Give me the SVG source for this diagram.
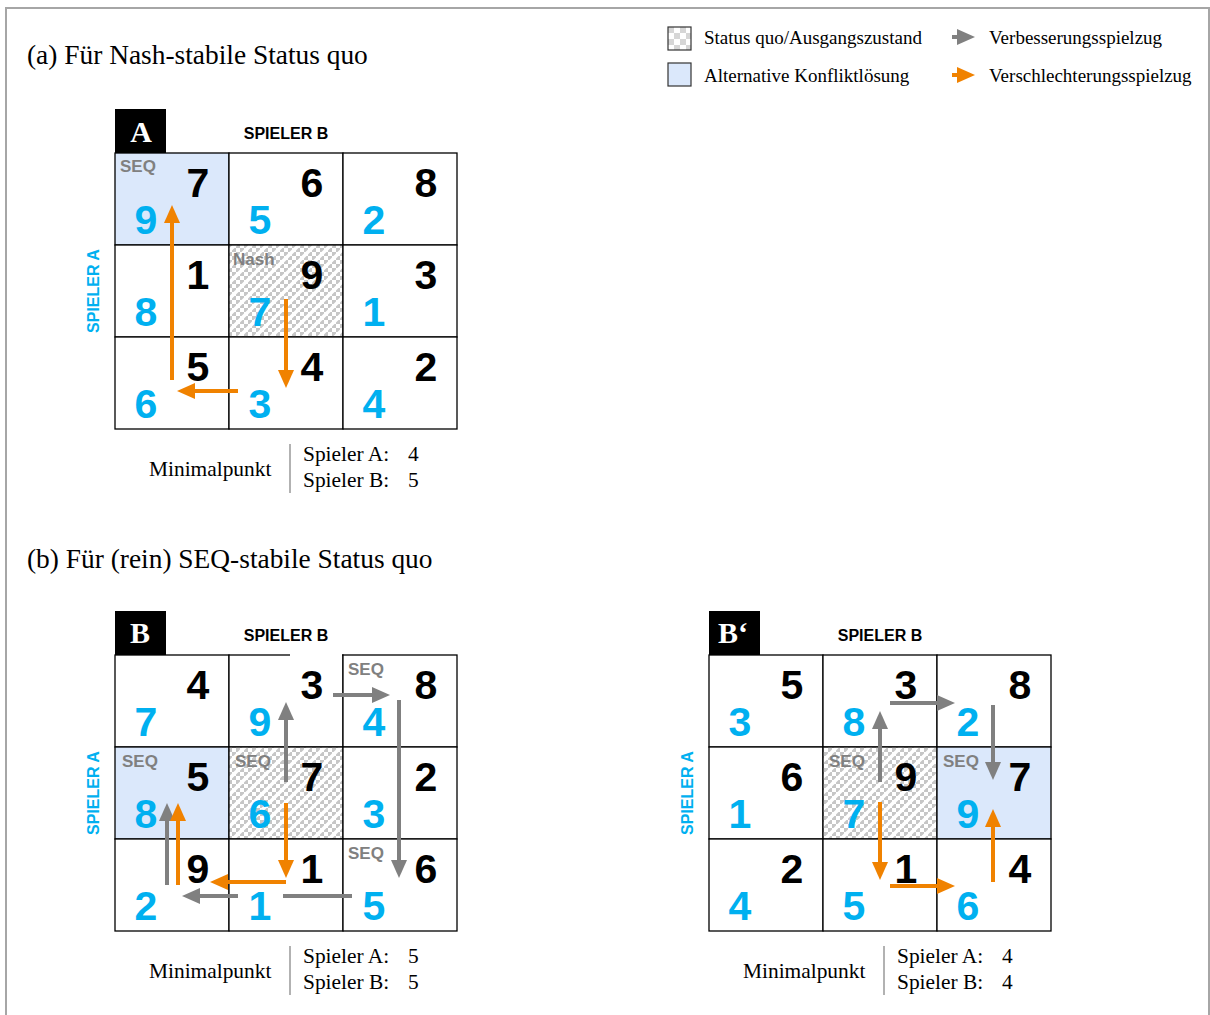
<svg xmlns="http://www.w3.org/2000/svg" width="1210" height="1015" viewBox="0 0 1210 1015">
<defs>
<pattern id="hatch" patternUnits="userSpaceOnUse" width="16" height="16">
<rect width="16" height="16" fill="#fff"/>
<path d="M0,0h4v4h-4zM8,0h4v4h-4zM4,4h4v4h-4zM12,4h4v4h-4zM0,8h4v4h-4zM8,8h4v4h-4zM4,12h4v4h-4zM12,12h4v4h-4z" fill="#c6c6c6"/>
<path d="M0,16L16,0M-4,4L4,-4M12,20L20,12" stroke="#fff" stroke-width="3.5"/>
</pattern>
<pattern id="check" patternUnits="userSpaceOnUse" width="12" height="12" x="668" y="27">
<rect width="12" height="12" fill="#fff"/>
<path d="M0,0h6v6h-6zM6,6h6v6h-6z" fill="#d6d6d6"/>
</pattern>
<marker id="ag" markerUnits="userSpaceOnUse" markerWidth="18" markerHeight="16" viewBox="0 0 18 16" refX="1" refY="8" orient="auto"><path d="M0,0L18,8L0,16z" fill="#808080"/></marker>
<marker id="ao" markerUnits="userSpaceOnUse" markerWidth="18" markerHeight="16" viewBox="0 0 18 16" refX="1" refY="8" orient="auto"><path d="M0,0L18,8L0,16z" fill="#f08200"/></marker>
</defs>
<style>
.cell{fill:#fff;stroke:#000;stroke-width:1.3}
.alt{fill:#dbe8fb}
.sq{fill:url(#hatch)}
.bk{font-family:"Liberation Sans",Arial,sans-serif;font-weight:bold;font-size:41px;fill:#000;text-anchor:middle}
.bl{font-family:"Liberation Sans",Arial,sans-serif;font-weight:bold;font-size:41px;fill:#00b0f0;text-anchor:middle}
.tag{font-family:"Liberation Sans",Arial,sans-serif;font-weight:bold;font-size:17px;fill:#808080}
.pb{font-family:"Liberation Sans",Arial,sans-serif;font-weight:bold;font-size:16px;fill:#000;text-anchor:middle}
.pa{font-family:"Liberation Sans",Arial,sans-serif;font-weight:bold;font-size:16px;fill:#00b0f0;text-anchor:middle}
.lab{font-family:"Liberation Serif","Times New Roman",serif;font-weight:bold;font-size:30px;fill:#fff}
.t{font-family:"Liberation Serif","Times New Roman",serif;fill:#000}
.ttl{font-size:27.4px}
.lg{font-size:19px}
.mp{font-size:21.4px}
.g{stroke:#808080;stroke-width:4;fill:none}
.o{stroke:#f08200;stroke-width:4;fill:none}
</style>
<rect x="6" y="8" width="1203" height="1020" fill="#fff" stroke="#a6a6a6" stroke-width="2"/>

<text class="t ttl" x="27" y="64">(a) Für Nash-stabile Status quo</text>
<text class="t ttl" x="27" y="568">(b) Für (rein) SEQ-stabile Status quo</text>

<g id="legend">
<rect x="668" y="27" width="23" height="23" fill="url(#check)" stroke="#333" stroke-width="1.2"/>
<text class="t lg" x="704" y="44">Status quo/Ausgangszustand</text>
<rect x="668" y="63" width="23" height="23" fill="#dbe8fb" stroke="#333" stroke-width="1.2"/>
<text class="t lg" x="704" y="82">Alternative Konfliktlösung</text>
<line class="g" x1="952" y1="37" x2="958" y2="37" marker-end="url(#ag)"/>
<text class="t lg" x="989" y="44">Verbesserungsspielzug</text>
<line class="o" x1="952" y1="75" x2="958" y2="75" marker-end="url(#ao)"/>
<text class="t lg" x="989" y="82">Verschlechterungsspielzug</text>
</g>

<!-- Grid A -->
<g id="gridA">
<rect x="115" y="109" width="51" height="44" fill="#000"/>
<text class="lab" x="141" y="142" text-anchor="middle">A</text>
<text class="pb" x="286" y="139">SPIELER B</text>
<text class="pa" transform="translate(99,291) rotate(-90)">SPIELER A</text>
<g id="A00"><rect class="cell alt" x="115" y="153" width="114" height="92"/><text class="tag" x="120" y="172">SEQ</text><text class="bk" x="198" y="197">7</text><text class="bl" x="146" y="234">9</text></g>
<g id="A01"><rect class="cell" x="229" y="153" width="114" height="92"/><text class="bk" x="312" y="197">6</text><text class="bl" x="260" y="234">5</text></g>
<g id="A02"><rect class="cell" x="343" y="153" width="114" height="92"/><text class="bk" x="426" y="197">8</text><text class="bl" x="374" y="234">2</text></g>
<g id="A10"><rect class="cell" x="115" y="245" width="114" height="92"/><text class="bk" x="198" y="289">1</text><text class="bl" x="146" y="326">8</text></g>
<g id="A11"><rect class="cell sq" x="229" y="245" width="114" height="92"/><text class="tag" x="233" y="265">Nash</text><text class="bk" x="312" y="289">9</text><text class="bl" x="260" y="326">7</text></g>
<g id="A12"><rect class="cell" x="343" y="245" width="114" height="92"/><text class="bk" x="426" y="289">3</text><text class="bl" x="374" y="326">1</text></g>
<g id="A20"><rect class="cell" x="115" y="337" width="114" height="92"/><text class="bk" x="198" y="381">5</text><text class="bl" x="146" y="418">6</text></g>
<g id="A21"><rect class="cell" x="229" y="337" width="114" height="92"/><text class="bk" x="312" y="381">4</text><text class="bl" x="260" y="418">3</text></g>
<g id="A22"><rect class="cell" x="343" y="337" width="114" height="92"/><text class="bk" x="426" y="381">2</text><text class="bl" x="374" y="418">4</text></g>
</g>
<g id="minA">
<text class="t mp" x="149" y="476">Minimalpunkt</text>
<line x1="290" y1="444" x2="290" y2="493" stroke="#999" stroke-width="1.5"/>
<text class="t mp" x="303" y="461">Spieler A:</text><text class="t mp" x="408" y="461">4</text>
<text class="t mp" x="303" y="487">Spieler B:</text><text class="t mp" x="408" y="487">5</text>
</g>

<!-- Grid B -->
<g id="gridB">
<rect x="115" y="611" width="51" height="44" fill="#000"/>
<text class="lab" x="140" y="643" text-anchor="middle">B</text>
<text class="pb" x="286" y="641">SPIELER B</text>
<text class="pa" transform="translate(99,793) rotate(-90)">SPIELER A</text>
<g id="B00"><rect class="cell" x="115" y="655" width="114" height="92"/><text class="bk" x="198" y="699">4</text><text class="bl" x="146" y="736">7</text></g>
<g id="B01"><rect class="cell" x="229" y="655" width="114" height="92"/><rect x="290" y="653" width="52" height="3" fill="#fff"/><text class="bk" x="312" y="699">3</text><text class="bl" x="260" y="736">9</text></g>
<g id="B02"><rect class="cell" x="343" y="655" width="114" height="92"/><text class="tag" x="348" y="675">SEQ</text><text class="bk" x="426" y="699">8</text><text class="bl" x="374" y="736">4</text></g>
<g id="B10"><rect class="cell alt" x="115" y="747" width="114" height="92"/><text class="tag" x="122" y="767">SEQ</text><text class="bk" x="198" y="791">5</text><text class="bl" x="146" y="828">8</text></g>
<g id="B11"><rect class="cell sq" x="229" y="747" width="114" height="92"/><text class="tag" x="235" y="767">SEQ</text><text class="bk" x="312" y="791">7</text><text class="bl" x="260" y="828">6</text></g>
<g id="B12"><rect class="cell" x="343" y="747" width="114" height="92"/><text class="bk" x="426" y="791">2</text><text class="bl" x="374" y="828">3</text></g>
<g id="B20"><rect class="cell" x="115" y="839" width="114" height="92"/><text class="bk" x="198" y="883">9</text><text class="bl" x="146" y="920">2</text></g>
<g id="B21"><rect class="cell" x="229" y="839" width="114" height="92"/><text class="bk" x="312" y="883">1</text><text class="bl" x="260" y="920">1</text></g>
<g id="B22"><rect class="cell" x="343" y="839" width="114" height="92"/><text class="tag" x="348" y="859">SEQ</text><text class="bk" x="426" y="883">6</text><text class="bl" x="374" y="920">5</text></g>
</g>
<g id="minB">
<text class="t mp" x="149" y="978">Minimalpunkt</text>
<line x1="290" y1="946" x2="290" y2="995" stroke="#999" stroke-width="1.5"/>
<text class="t mp" x="303" y="963">Spieler A:</text><text class="t mp" x="408" y="963">5</text>
<text class="t mp" x="303" y="989">Spieler B:</text><text class="t mp" x="408" y="989">5</text>
</g>

<!-- Grid B' -->
<g id="gridB2">
<rect x="709" y="611" width="51" height="44" fill="#000"/>
<text class="lab" x="718" y="643">B‘</text>
<text class="pb" x="880" y="641">SPIELER B</text>
<text class="pa" transform="translate(693,793) rotate(-90)">SPIELER A</text>
<g id="C00"><rect class="cell" x="709" y="655" width="114" height="92"/><text class="bk" x="792" y="699">5</text><text class="bl" x="740" y="736">3</text></g>
<g id="C01"><rect class="cell" x="823" y="655" width="114" height="92"/><text class="bk" x="906" y="699">3</text><text class="bl" x="854" y="736">8</text></g>
<g id="C02"><rect class="cell" x="937" y="655" width="114" height="92"/><text class="bk" x="1020" y="699">8</text><text class="bl" x="968" y="736">2</text></g>
<g id="C10"><rect class="cell" x="709" y="747" width="114" height="92"/><text class="bk" x="792" y="791">6</text><text class="bl" x="740" y="828">1</text></g>
<g id="C11"><rect class="cell sq" x="823" y="747" width="114" height="92"/><text class="tag" x="829" y="767">SEQ</text><text class="bk" x="906" y="791">9</text><text class="bl" x="854" y="828">7</text></g>
<g id="C12"><rect class="cell alt" x="937" y="747" width="114" height="92"/><text class="tag" x="943" y="767">SEQ</text><text class="bk" x="1020" y="791">7</text><text class="bl" x="968" y="828">9</text></g>
<g id="C20"><rect class="cell" x="709" y="839" width="114" height="92"/><text class="bk" x="792" y="883">2</text><text class="bl" x="740" y="920">4</text></g>
<g id="C21"><rect class="cell" x="823" y="839" width="114" height="92"/><text class="bk" x="906" y="883">1</text><text class="bl" x="854" y="920">5</text></g>
<g id="C22"><rect class="cell" x="937" y="839" width="114" height="92"/><text class="bk" x="1020" y="883">4</text><text class="bl" x="968" y="920">6</text></g>
</g>
<g id="minB2">
<text class="t mp" x="743" y="978">Minimalpunkt</text>
<line x1="884" y1="946" x2="884" y2="995" stroke="#999" stroke-width="1.5"/>
<text class="t mp" x="897" y="963">Spieler A:</text><text class="t mp" x="1002" y="963">4</text>
<text class="t mp" x="897" y="989">Spieler B:</text><text class="t mp" x="1002" y="989">4</text>
</g>

<g id="connectors">
<!-- A -->
<line class="o" x1="286" y1="299" x2="286" y2="371" marker-end="url(#ao)"/>
<line class="o" x1="238" y1="391" x2="194" y2="391" marker-end="url(#ao)"/>
<line class="o" x1="172" y1="380" x2="172" y2="222" marker-end="url(#ao)"/>
<!-- B -->
<line class="g" x1="286" y1="782" x2="286" y2="719" marker-end="url(#ag)"/>
<line class="g" x1="333" y1="695" x2="373" y2="695" marker-end="url(#ag)"/>
<line class="g" x1="399" y1="700" x2="399" y2="861" marker-end="url(#ag)"/>
<line class="g" x1="352" y1="896" x2="283" y2="896"/>
<line class="g" x1="238" y1="896" x2="199" y2="896" marker-end="url(#ag)"/>
<line class="g" x1="167" y1="885" x2="167" y2="820" marker-end="url(#ag)"/>
<line class="o" x1="286" y1="803" x2="286" y2="861" marker-end="url(#ao)"/>
<line class="o" x1="286" y1="882" x2="227" y2="882" marker-end="url(#ao)"/>
<line class="o" x1="178" y1="885" x2="178" y2="820" marker-end="url(#ao)"/>
<!-- B' -->
<line class="g" x1="880" y1="782" x2="880" y2="728" marker-end="url(#ag)"/>
<line class="g" x1="890" y1="703" x2="938" y2="703" marker-end="url(#ag)"/>
<line class="g" x1="993" y1="705" x2="993" y2="763" marker-end="url(#ag)"/>
<line class="o" x1="880" y1="802" x2="880" y2="863" marker-end="url(#ao)"/>
<line class="o" x1="890" y1="886" x2="938" y2="886" marker-end="url(#ao)"/>
<line class="o" x1="993" y1="882" x2="993" y2="826" marker-end="url(#ao)"/>
</g>
</svg>
